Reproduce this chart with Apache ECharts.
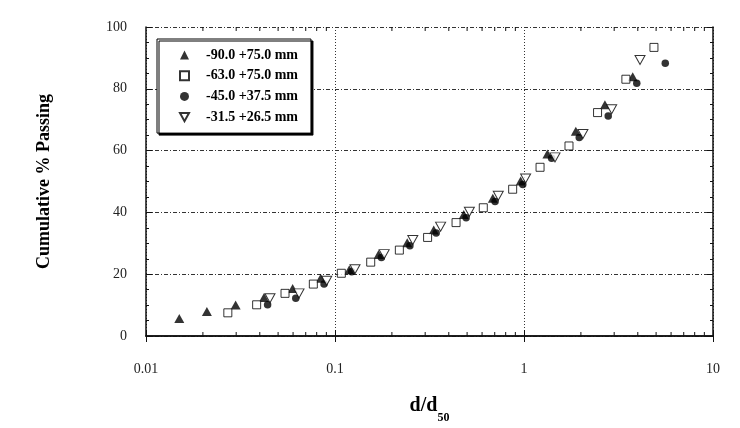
<!DOCTYPE html>
<html>
<head>
<meta charset="utf-8">
<script src="https://cdn.jsdelivr.net/npm/echarts@6/dist/echarts.min.js"></script>
<style>
  html, body { margin: 0; padding: 0; background: #fff; }
  #chart { width: 740px; height: 428px; }
</style>
</head>
<body>
<div id="chart"></div>
<script>
// series names (legend)
var names = ['-90.0 +75.0 mm', '-63.0 +75.0 mm', '-45.0 +37.5 mm', '-31.5 +26.5 mm'];

// [d/d50, cumulative % passing]
var s90 = [[0.015, 5.7], [0.021, 7.9], [0.0298, 10.0], [0.0421, 12.5], [0.0597, 15.4], [0.084, 18.7],
  [0.119, 21.4], [0.170, 26.4], [0.241, 30.2], [0.333, 34.3], [0.48, 39.3], [0.684, 44.6],
  [0.96, 50.2], [1.33, 58.9], [1.88, 66.3], [2.68, 74.8], [3.76, 83.9]];
var s63 = [[0.0271, 7.5], [0.0385, 10.1], [0.0544, 13.8], [0.0768, 16.8], [0.108, 20.3], [0.1545, 23.9],
  [0.219, 27.8], [0.309, 31.9], [0.437, 36.7], [0.609, 41.5], [0.871, 47.5], [1.216, 54.6],
  [1.73, 61.5], [2.45, 72.3], [3.46, 83.1], [4.87, 93.4]];
var s45 = [[0.044, 10.1], [0.062, 12.2], [0.0875, 16.8], [0.1225, 20.8], [0.176, 25.4], [0.249, 29.2],
  [0.343, 33.3], [0.494, 38.3], [0.703, 43.5], [0.985, 49.0], [1.40, 57.5], [1.96, 64.2],
  [2.79, 71.2], [3.95, 81.8], [5.59, 88.3]];
var s31 = [[0.0453, 12.2], [0.0645, 13.8], [0.0904, 17.9], [0.1276, 21.6], [0.182, 26.5], [0.258, 31.1],
  [0.362, 35.4], [0.514, 40.2], [0.731, 45.4], [1.02, 51.0], [1.459, 57.8], [2.05, 65.4],
  [2.91, 73.4], [4.11, 89.3]];

// axis ticks
var xTicks = [0.01, 0.1, 1, 10];
var minorSteps = [2, 3, 4, 5, 6, 7, 8, 9];
var yTicks = [0, 20, 40, 60, 80, 100];

var minorX = [];
xTicks.slice(0, -1).forEach(function (d) {
  minorSteps.forEach(function (m) { minorX.push([d * m]); });
});

var serif = 'Liberation Serif';
var ink = '#111';

var myChart = echarts.init(document.getElementById('chart'));

function fmt(v) { return String(parseFloat(Number(v).toPrecision(6))); }

var xBase = {
  type: 'log', logBase: 10, min: xTicks[0], max: xTicks[xTicks.length - 1],
  axisLine: { show: true, lineStyle: { color: ink, width: 1.5 } },
  axisTick: { show: true, inside: true, length: 6, lineStyle: { color: ink } },
  splitLine: { show: false }
};
var yBase = {
  type: 'value', min: yTicks[0], max: yTicks[yTicks.length - 1], interval: 20,
  axisLine: { show: true, lineStyle: { color: ink, width: 1.5 } },
  axisTick: { show: true, inside: true, length: 6, lineStyle: { color: ink } },
  minorTick: { show: true, splitNumber: 4, length: 3, lineStyle: { color: ink } },
  splitLine: { show: false }
};

var option = {
  animation: false,
  backgroundColor: '#fff',
  grid: { left: 146, right: 27, top: 27, bottom: 92, show: false, outerBoundsMode: 'none', containLabel: false },
  legend: {
    orient: 'vertical', left: 157, top: 39,
    padding: [9, 13, 9, 22],
    itemWidth: 9, itemHeight: 9, itemGap: 6.7,
    backgroundColor: '#fff', borderColor: '#000', borderWidth: 1,
    shadowColor: '#000', shadowBlur: 0, shadowOffsetX: 2, shadowOffsetY: 2,
    data: names,
    textStyle: { fontFamily: serif, fontSize: 14, fontWeight: 'bold', color: '#000', lineHeight: 14, padding: [0, 0, 0, 12] }
  },
  xAxis: [
    Object.assign({}, xBase, {
      position: 'bottom',
      name: '{a|d/d}{b|50}', nameLocation: 'middle', nameGap: 60,
      nameTextStyle: {
        rich: {
          a: { fontFamily: serif, fontSize: 20, fontWeight: 'bold', color: '#000', lineHeight: 28, verticalAlign: 'top' },
          b: { fontFamily: serif, fontSize: 12, fontWeight: 'bold', color: '#000', lineHeight: 28, verticalAlign: 'bottom' }
        }
      },
      axisLabel: { show: true, margin: 26, fontFamily: serif, fontSize: 14, color: '#222', formatter: fmt },
      splitLine: { show: true, lineStyle: { color: '#333', width: 1, type: [1, 2] } }
    }),
    Object.assign({}, xBase, { position: 'top', axisLabel: { show: false } })
  ],
  yAxis: [
    Object.assign({}, yBase, {
      position: 'left',
      name: 'Cumulative % Passing', nameLocation: 'middle', nameGap: 93, nameRotate: 90,
      nameTextStyle: { fontFamily: serif, fontSize: 18, fontWeight: 'bold', color: '#000' },
      axisLabel: { show: true, margin: 19, fontFamily: serif, fontSize: 14, color: '#222' },
      splitLine: { show: true, lineStyle: { color: '#333', width: 1, type: [4, 2, 1, 2] } }
    }),
    Object.assign({}, yBase, { position: 'right', axisLabel: { show: false } })
  ],
  series: [
    {
      name: names[0], type: 'scatter', data: s90,
      symbol: 'triangle', symbolSize: [10, 9],
      itemStyle: { color: '#000' }
    },
    {
      name: names[1], type: 'scatter', data: s63,
      symbol: 'rect', symbolSize: 8,
      itemStyle: { color: '#fff', borderColor: '#000', borderWidth: 1 }
    },
    {
      name: names[2], type: 'scatter', data: s45,
      symbol: 'circle', symbolSize: 7.5,
      itemStyle: { color: '#000' }
    },
    {
      name: names[3], type: 'scatter', data: s31,
      symbol: 'path://M0,0L10,0L5,9Z', symbolSize: [10, 9],
      itemStyle: { color: '#fff', borderColor: '#000', borderWidth: 1 }
    },
    {
      // log minor ticks on the bottom and top axes
      type: 'custom', silent: true, data: minorX, clip: false, z: 5,
      renderItem: function (params, api) {
        var x = api.value(0);
        var b = api.coord([x, yTicks[0]]);
        var t = api.coord([x, yTicks[yTicks.length - 1]]);
        var st = { stroke: ink, lineWidth: 1 };
        return {
          type: 'group',
          children: [
            { type: 'line', shape: { x1: b[0], y1: b[1], x2: b[0], y2: b[1] - 4 }, style: st },
            { type: 'line', shape: { x1: t[0], y1: t[1], x2: t[0], y2: t[1] + 4 }, style: st }
          ]
        };
      }
    }
  ]
};

myChart.setOption(option);
</script>
</body>
</html>
